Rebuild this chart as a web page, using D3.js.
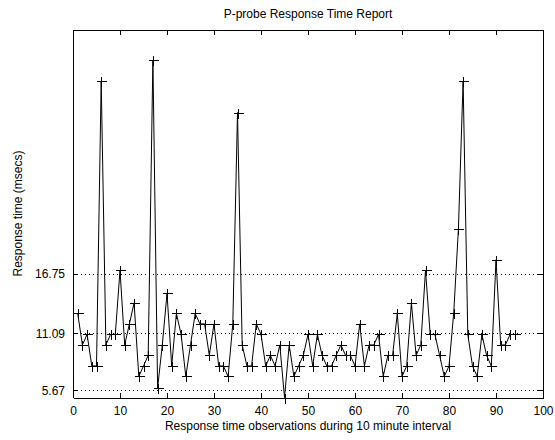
<!DOCTYPE html>
<html><head><meta charset="utf-8">
<script src="https://cdn.jsdelivr.net/npm/d3@7"></script>
<style>
html,body{margin:0;padding:0;background:#fff;}
svg{display:block;font-family:"Liberation Sans",Arial,sans-serif;}
</style></head>
<body>
<svg id="chart" width="555" height="440"></svg>
<script>
const observations = d3.range(1, 95);
const responseTimes = [
 13, 10, 11, 8, 8, 35.1, 10, 11, 11, 17.1,
 10, 12, 14, 7, 8, 9, 37.1, 5.9, 10, 14.9,
 8, 13, 11, 7, 10, 13, 12, 12, 9, 12,
 8, 8, 7, 12, 32.1, 10, 8, 8, 12, 11,
 8, 9, 8, 10, 5, 10, 7, 8, 9, 11,
 8, 11, 9, 8, 8, 9, 10, 9, 9, 8,
 12, 8, 10, 10, 11, 7, 9, 9, 13, 7,
 8, 14, 9, 10, 17.1, 11, 11, 9, 7, 8,
 13, 21, 35.1, 11, 8, 7, 11, 9, 8, 18.1,
 10, 10, 11, 11
];
const xTicks = [0,10,20,30,40,50,60,70,80,90,100];
const yTicks = [5.67, 11.09, 16.75];
const xDomain = [0, 100];
const yDomain = [5, 40];
const titleText = "P-probe Response Time Report";
const xLabel = "Response time observations during 10 minute interval";
const yLabel = "Response time (msecs)";

const svg = d3.select("#chart");
const L = 73, R = 543, T = 29.5, B = 397.5;
const x = d3.scaleLinear().domain(xDomain).range([L, R]);
const y = d3.scaleLinear().domain(yDomain).range([B, T]);
const fs = 12;

// gridlines
svg.append("g").selectAll("line").data(yTicks).join("line")
  .attr("x1", L).attr("x2", R)
  .attr("y1", d => Math.round(y(d)) + 0.5).attr("y2", d => Math.round(y(d)) + 0.5)
  .attr("stroke", "#000").attr("stroke-width", 1).attr("stroke-dasharray", "1,3")
  .attr("shape-rendering", "crispEdges");

// axes
const tickLen = 5;
const xb = svg.append("g").attr("transform", `translate(0,${B})`)
  .call(d3.axisBottom(x).tickValues(xTicks).tickSizeInner(-tickLen).tickSizeOuter(0).tickPadding(10).tickFormat(d3.format("d")));
const xt = svg.append("g").attr("transform", `translate(0,${T})`)
  .call(d3.axisTop(x).tickValues(xTicks).tickSizeInner(-tickLen).tickSizeOuter(0).tickFormat(""));
const yl = svg.append("g").attr("transform", `translate(${L},0)`)
  .call(d3.axisLeft(y).tickValues(yTicks).tickSizeInner(-tickLen).tickSizeOuter(0).tickPadding(8).tickFormat(d3.format(".2f")));
const yr = svg.append("g").attr("transform", `translate(${R},0)`)
  .call(d3.axisRight(y).tickValues(yTicks).tickSizeInner(-tickLen).tickSizeOuter(0).tickFormat(""));
[xb, xt, yl, yr].forEach(g => {
  g.selectAll("path.domain").attr("stroke", "#000").attr("stroke-width", 1).attr("shape-rendering", "crispEdges");
  g.selectAll(".tick line").attr("stroke", "#000").attr("shape-rendering", "crispEdges");
  g.selectAll("text").attr("fill", "#000").style("font-size", fs + "px").style("font-family", '"Liberation Sans",Arial,sans-serif');
});
xb.selectAll("text").attr("dy", "0.6em");

// line
const line = d3.line().x((d, i) => x(observations[i])).y(d => y(d));
svg.append("path").datum(responseTimes)
  .attr("d", line).attr("fill", "none").attr("stroke", "#000").attr("stroke-width", 1);

// plus markers
const m = 5;
svg.append("g").selectAll("path").data(responseTimes).join("path")
  .attr("d", (d, i) => {
    const px = Math.round(x(observations[i])) + 0.5, py = Math.round(y(d)) + 0.5;
    return `M${px - m},${py}H${px + m}M${px},${py - m}V${py + m}`;
  })
  .attr("stroke", "#000").attr("stroke-width", 1).attr("fill", "none")
  .attr("shape-rendering", "crispEdges");

// texts
svg.append("text").attr("x", (L + R) / 2).attr("y", 18).attr("text-anchor", "middle")
  .style("font-size", fs + "px").text(titleText);
svg.append("text").attr("x", (L + R) / 2).attr("y", 430).attr("text-anchor", "middle")
  .style("font-size", fs + "px").text(xLabel);
svg.append("text").attr("transform", `translate(22,${(T + B) / 2}) rotate(-90)`).attr("text-anchor", "middle")
  .style("font-size", fs + "px").text(yLabel);
</script>
</body></html>
